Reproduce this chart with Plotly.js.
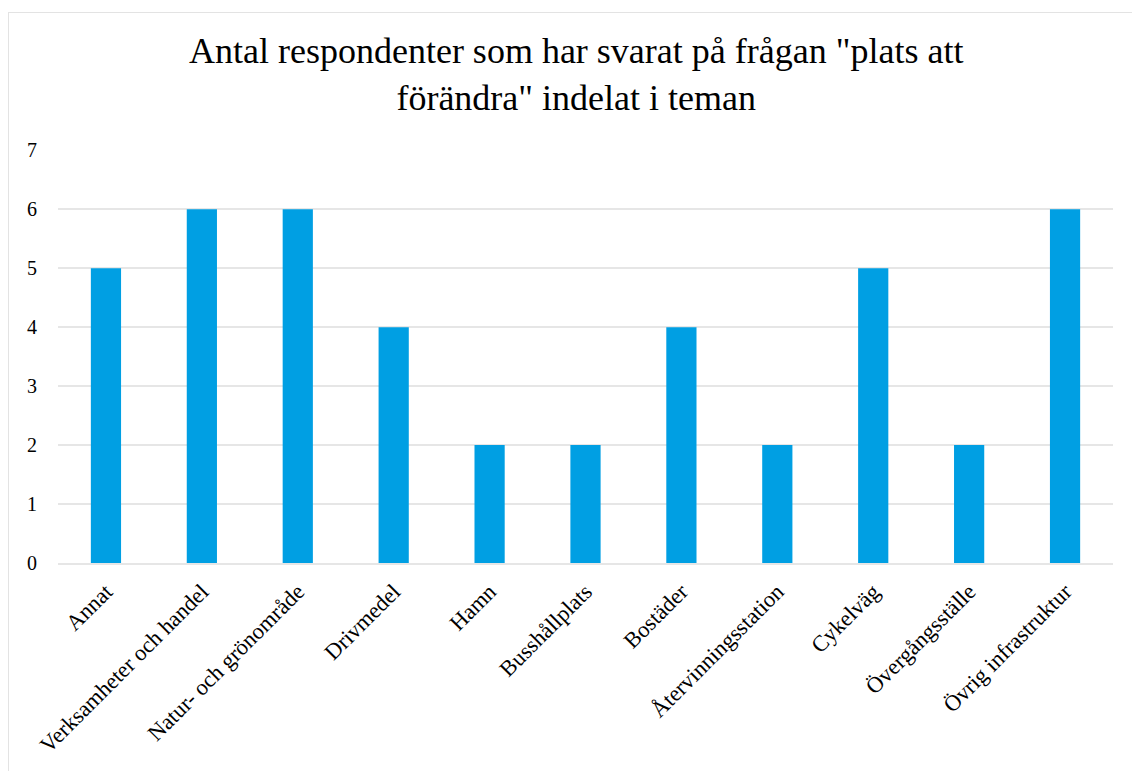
<!DOCTYPE html>
<html>
<head>
<meta charset="utf-8">
<script src="https://cdn.plot.ly/plotly-3.0.1.min.js"></script>
<style>
html,body{margin:0;padding:0;background:#fff;}
#wrap{position:relative;width:1132px;height:771px;overflow:hidden;}
#frame{position:absolute;left:8px;top:12px;width:1140px;height:800px;border:1px solid #e3e3e3;box-sizing:border-box;pointer-events:none;}
#chart{position:absolute;left:0;top:0;width:1132px;height:771px;}
</style>
</head>
<body>
<div id="wrap">
<div id="chart"></div>
<div id="frame"></div>
</div>
<script>
const categories = ["Annat","Verksamheter och handel","Natur- och grönområde","Drivmedel","Hamn","Busshållplats","Bostäder","Återvinningsstation","Cykelväg","Övergångsställe","Övrig infrastruktur"];
const values = [5,6,6,4,2,2,4,2,5,2,6];
const yTicks = [0,1,2,3,4,5,6,7];

const serif = "Liberation Serif, Times New Roman, serif";

Plotly.newPlot('chart', [{
  type: 'bar',
  x: categories,
  y: values,
  marker: {color: '#009FE3'},
  hoverinfo: 'x+y'
}], {
  width: 1132,
  height: 771,
  paper_bgcolor: '#ffffff',
  plot_bgcolor: '#ffffff',
  margin: {l: 58, r: 19, t: 150, b: 208},
  bargap: 0.685,
  showlegend: false,
  title: {
    text: 'Antal respondenter som har svarat på frågan "plats att<br>förändra" indelat i teman',
    font: {family: serif, size: 36, color: '#000'},
    x: 0.509, xanchor: 'center',
    y: 0.918, yanchor: 'top'
  },
  xaxis: {
    type: 'category',
    tickangle: -45,
    tickfont: {family: serif, size: 22.5, color: '#000'},
    showgrid: false,
    showline: true,
    linecolor: '#e6e6e6',
    linewidth: 1.5,
    ticks: '',
    ticklabelstandoff: 5,
    automargin: false
  },
  yaxis: {
    range: [0, 7.004],
    tickvals: yTicks,
    ticktext: yTicks.map(String),
    tickfont: {family: serif, size: 20, color: '#000'},
    showgrid: true,
    gridcolor: '#e6e6e6',
    gridwidth: 1.5,
    zeroline: false,
    showline: false,
    ticks: '',
    ticklabelstandoff: 20,
    automargin: false
  }
}, {displayModeBar: false, staticPlot: true});
</script>
</body>
</html>
